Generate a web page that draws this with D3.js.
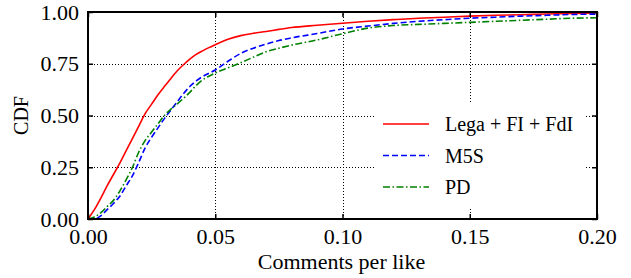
<!DOCTYPE html>
<html>
<head>
<meta charset="utf-8">
<script src="https://cdn.jsdelivr.net/npm/d3@7"></script>
<style>
  body { margin: 0; background: #fff; }
  text { font-family: "Liberation Serif", "DejaVu Serif", serif; fill: #000; }
</style>
</head>
<body>
<div id="chart"></div>
<script>
// comments per like (x) and CDF of each party
const xs    = [0, 0.0025, 0.005, 0.0075, 0.01, 0.0125, 0.015, 0.0175, 0.02, 0.0225, 0.025, 0.0275, 0.03, 0.0325, 0.035, 0.0375, 0.04, 0.0425, 0.045, 0.0475, 0.05, 0.055, 0.06, 0.065, 0.07, 0.075, 0.08, 0.09, 0.10, 0.11, 0.12, 0.13, 0.14, 0.15, 0.16, 0.17, 0.18, 0.19, 0.20];
const lega  = [0, 0.045, 0.10, 0.16, 0.215, 0.27, 0.33, 0.39, 0.45, 0.51, 0.555, 0.60, 0.64, 0.678, 0.715, 0.745, 0.772, 0.795, 0.812, 0.828, 0.842, 0.868, 0.886, 0.897, 0.906, 0.916, 0.925, 0.936, 0.946, 0.955, 0.963, 0.97, 0.975, 0.98, 0.984, 0.987, 0.99, 0.993, 0.995];
const m5s   = [0, 0.0, 0.015, 0.045, 0.075, 0.11, 0.16, 0.21, 0.275, 0.345, 0.395, 0.44, 0.485, 0.525, 0.565, 0.605, 0.64, 0.667, 0.688, 0.704, 0.72, 0.762, 0.80, 0.825, 0.845, 0.862, 0.875, 0.896, 0.918, 0.932, 0.945, 0.955, 0.963, 0.97, 0.975, 0.98, 0.984, 0.988, 0.99];
const pd    = [0, 0.01, 0.03, 0.06, 0.09, 0.135, 0.19, 0.25, 0.325, 0.38, 0.42, 0.46, 0.5, 0.53, 0.555, 0.583, 0.612, 0.645, 0.672, 0.69, 0.705, 0.73, 0.755, 0.782, 0.808, 0.825, 0.84, 0.865, 0.895, 0.922, 0.935, 0.94, 0.945, 0.95, 0.955, 0.96, 0.965, 0.97, 0.972];

const seriesNames = ["Lega + FI + FdI", "M5S", "PD"];
const seriesVals  = [lega, m5s, pd];
const xTicks = [0, 0.05, 0.10, 0.15, 0.20];
const yTicks = [0, 0.25, 0.5, 0.75, 1.0];

const styles = [
  {color: "#ff0000", dash: null},
  {color: "#0000ff", dash: "6,3"},
  {color: "#008000", dash: "7,2.5,1.5,2.5"}
];

const width = 631, height = 278;
const margin = {top: 12, right: 34, bottom: 59, left: 88};

const svg = d3.select("#chart").append("svg")
    .attr("width", width)
    .attr("height", height);

const x = d3.scaleLinear().domain([0, 0.2]).range([margin.left, width - margin.right]);
const y = d3.scaleLinear().domain([0, 1]).range([height - margin.bottom, margin.top]);

// grid, snapped to pixel centres so the dots stay dark
const px = v => Math.round(v) + 0.5;
const grid = svg.append("g")
    .attr("stroke", "#000")
    .attr("stroke-width", 1)
    .attr("stroke-dasharray", "1,2");
grid.selectAll("line.v")
    .data(xTicks.slice(1, -1))
    .enter().append("line")
      .attr("x1", d => px(x(d))).attr("x2", d => px(x(d)))
      .attr("y1", y(0)).attr("y2", y(1));
grid.selectAll("line.h")
    .data(yTicks.slice(1, -1))
    .enter().append("line")
      .attr("x1", x(0)).attr("x2", x(0.2))
      .attr("y1", d => px(y(d))).attr("y2", d => px(y(d)));

// curves
const line = d3.line()
    .curve(d3.curveMonotoneX)
    .x(d => x(d[0]))
    .y(d => y(d[1]));

svg.append("g")
    .attr("fill", "none")
    .selectAll("path")
    .data(seriesVals)
    .enter().append("path")
      .attr("d", v => line(xs.map((xv, i) => [xv, v[i]])))
      .attr("stroke", (v, i) => styles[i].color)
      .attr("stroke-width", 1.6)
      .attr("stroke-dasharray", (v, i) => styles[i].dash);

// axes with inward ticks
const tickFmt = d3.format(".2f");
const axBottom = svg.append("g")
    .attr("transform", `translate(0,${y(0)})`)
    .call(d3.axisBottom(x).tickValues(xTicks).tickFormat(tickFmt).tickSizeInner(-5).tickSizeOuter(0).tickPadding(9));
const axLeft = svg.append("g")
    .attr("transform", `translate(${x(0)},0)`)
    .call(d3.axisLeft(y).tickValues(yTicks).tickFormat(tickFmt).tickSizeInner(-5).tickSizeOuter(0).tickPadding(9));
const axTop = svg.append("g")
    .attr("transform", `translate(0,${y(1)})`)
    .call(d3.axisTop(x).tickValues(xTicks).tickFormat("").tickSizeInner(-5).tickSizeOuter(0));
const axRight = svg.append("g")
    .attr("transform", `translate(${x(0.2)},0)`)
    .call(d3.axisRight(y).tickValues(yTicks).tickFormat("").tickSizeInner(-5).tickSizeOuter(0));

[axBottom, axLeft, axTop, axRight].forEach(g => {
  g.select(".domain").remove();
  g.selectAll(".tick line").attr("stroke", "#000").attr("stroke-width", 1.5);
  g.selectAll(".tick text").style("font-size", "22px").attr("font-family", null);
});

// frame
svg.append("rect")
    .attr("x", x(0)).attr("y", y(1))
    .attr("width", x(0.2) - x(0)).attr("height", y(0) - y(1))
    .attr("fill", "none")
    .attr("stroke", "#000")
    .attr("stroke-width", 2);

// axis labels
svg.append("text")
    .attr("x", (x(0) + x(0.2)) / 2 - 1)
    .attr("y", 269)
    .attr("text-anchor", "middle")
    .style("font-size", "22px")
    .text("Comments per like");

svg.append("text")
    .attr("transform", `translate(28,${(y(0) + y(1)) / 2}) rotate(-90)`)
    .attr("text-anchor", "middle")
    .style("font-size", "20px")
    .text("CDF");

// legend
const legend = svg.append("g");
legend.append("rect")
    .attr("x", 375).attr("y", 104)
    .attr("width", 210).attr("height", 103)
    .attr("fill", "#fff");

const item = legend.selectAll("g.item")
    .data(seriesNames)
    .enter().append("g")
      .attr("transform", (d, i) => `translate(383,${124 + i * 31.5})`);
item.append("line")
    .attr("x1", 0).attr("x2", 46)
    .attr("stroke", (d, i) => styles[i].color)
    .attr("stroke-width", 1.6)
    .attr("stroke-dasharray", (d, i) => styles[i].dash);
item.append("text")
    .attr("x", 62)
    .attr("dy", "0.35em")
    .style("font-size", "20px")
    .text(d => d);
</script>
</body>
</html>
